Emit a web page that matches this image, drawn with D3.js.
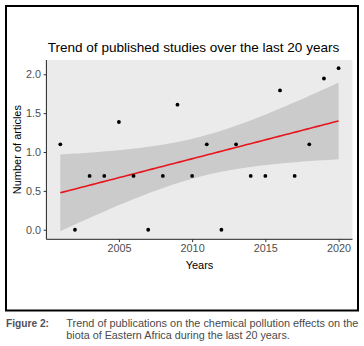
<!DOCTYPE html>
<html><head><meta charset="utf-8">
<script src="https://cdn.jsdelivr.net/npm/d3@7"></script>
<style>
html,body{margin:0;padding:0;background:#fff;}
svg{display:block;}
</style></head>
<body>
<svg id="c" width="364" height="346"></svg>
<script>
const years = [2001,2002,2003,2004,2005,2006,2007,2008,2009,2010,2011,2012,2013,2014,2015,2016,2017,2018,2019,2020];
const values = [1.099,0,0.693,0.693,1.386,0.693,0,0.693,1.609,0.693,1.099,0,1.099,0.693,0.693,1.792,0.693,1.099,1.946,2.079];
const xTicks = [2005,2010,2015,2020];
const yTicks = [0,0.5,1,1.5,2];
const title = "Trend of published studies over the last 20 years";
const xTitle = "Years";
const yTitle = "Number of articles";
const captionLabel = "Figure 2:";
const captionLines = ["Trend of publications on the chemical pollution effects on the","biota of Eastern Africa during the last 20 years."];

const svg = d3.select("#c");
const font = "'Liberation Sans', Arial, sans-serif";

// linear model (geom_smooth method = lm, 95% CI)
const n = years.length;
const xbar = d3.mean(years), ybar = d3.mean(values);
const Sxx = d3.sum(years, x => (x - xbar) ** 2);
const Sxy = d3.sum(years, (x, i) => (x - xbar) * (values[i] - ybar));
const b1 = Sxy / Sxx, b0 = ybar - b1 * xbar;
const s = Math.sqrt(d3.sum(years, (x, i) => (values[i] - b0 - b1 * x) ** 2) / (n - 2));
const tq = 2.100922;
const grid = d3.range(80).map(i => years[0] + (years[n-1] - years[0]) * i / 79);
const fit = grid.map(x => {
  const yh = b0 + b1 * x;
  const se = s * Math.sqrt(1 / n + (x - xbar) ** 2 / Sxx);
  return {x, y: yh, lo: yh - tq * se, hi: yh + tq * se};
});

// panel
const P = {l: 46.4, r: 352.5, t: 60, b: 239.3};
const xr = d3.extent(years);
const xe = (xr[1] - xr[0]) * 0.05;
const x = d3.scaleLinear().domain([xr[0] - xe, xr[1] + xe]).range([P.l, P.r]);
const ymin = Math.min(d3.min(values), d3.min(fit, d => d.lo));
const ymax = Math.max(d3.max(values), d3.max(fit, d => d.hi));
const ye = (ymax - ymin) * 0.05;
const y = d3.scaleLinear().domain([ymin - ye, ymax + ye]).range([P.b, P.t]);

// outer frame
svg.append("rect").attr("x", 6).attr("y", 6).attr("width", 352).attr("height", 304.5)
  .attr("fill", "none").attr("stroke", "#000").attr("stroke-width", 2);

svg.append("rect").attr("x", P.l).attr("y", P.t).attr("width", P.r - P.l).attr("height", P.b - P.t)
  .attr("fill", "#ebebeb");

// ribbon
svg.append("path").datum(fit)
  .attr("d", d3.area().x(d => x(d.x)).y0(d => y(d.lo)).y1(d => y(d.hi)))
  .attr("fill", "#cbcbcb");

// fit line
svg.append("path").datum(fit)
  .attr("d", d3.line().x(d => x(d.x)).y(d => y(d.y)))
  .attr("fill", "none").attr("stroke", "#e8141c").attr("stroke-width", 1.6);

// points
svg.append("g").selectAll("circle").data(years).join("circle")
  .attr("cx", d => x(d)).attr("cy", (d, i) => y(values[i])).attr("r", 1.9).attr("fill", "#000");

// axes
const xAxis = svg.append("g").attr("transform", `translate(0,${P.b})`)
  .call(d3.axisBottom(x).tickValues(xTicks).tickFormat(d3.format("d")).tickSize(2.8).tickPadding(2.5));
const yAxis = svg.append("g").attr("transform", `translate(${P.l},0)`)
  .call(d3.axisLeft(y).tickValues(yTicks).tickFormat(d3.format(".1f")).tickSize(2.8).tickPadding(2.5));
[xAxis, yAxis].forEach(a => {
  a.select(".domain").attr("stroke", "#222").attr("stroke-width", 1);
  a.selectAll(".tick line").attr("stroke", "#333").attr("stroke-width", 1);
  a.selectAll("text").attr("fill", "#4d4d4d").style("font-family", font).style("font-size", "10.8px");
});
xAxis.select(".domain").attr("d", `M${P.l},0H${P.r}`);
yAxis.select(".domain").attr("d", `M0,${P.b}V${P.t}`);

// titles
svg.append("text").attr("x", 47.7).attr("y", 52)
  .style("font-family", font).style("font-size", "13.2px").attr("fill", "#000")
  .attr("textLength", 291.6).attr("lengthAdjust", "spacingAndGlyphs").text(title);
svg.append("text").attr("x", 199.5).attr("y", 269).attr("text-anchor", "middle")
  .style("font-family", font).style("font-size", "11px").attr("fill", "#000").text(xTitle);
svg.append("text").attr("transform", `translate(21,${(P.t + P.b) / 2}) rotate(-90)`).attr("text-anchor", "middle")
  .style("font-family", font).style("font-size", "11px").attr("fill", "#000").text(yTitle);

// caption
const cfont = "'Liberation Sans Narrow', 'Arial Narrow', 'Liberation Sans', Arial, sans-serif";
svg.append("text").attr("x", 6).attr("y", 326.5)
  .style("font-family", cfont).style("font-size", "10px").style("font-weight", "bold")
  .attr("fill", "#505060").attr("textLength", 43).attr("lengthAdjust", "spacingAndGlyphs").text(captionLabel);
const capW = [292, 223.5];
captionLines.forEach((t, i) => {
  svg.append("text").attr("x", 66.3).attr("y", 326.5 + i * 12.3)
    .style("font-family", cfont).style("font-size", "10px").attr("fill", "#4a4a4a")
    .attr("textLength", capW[i]).attr("lengthAdjust", "spacingAndGlyphs").text(t);
});
</script>
</body></html>
